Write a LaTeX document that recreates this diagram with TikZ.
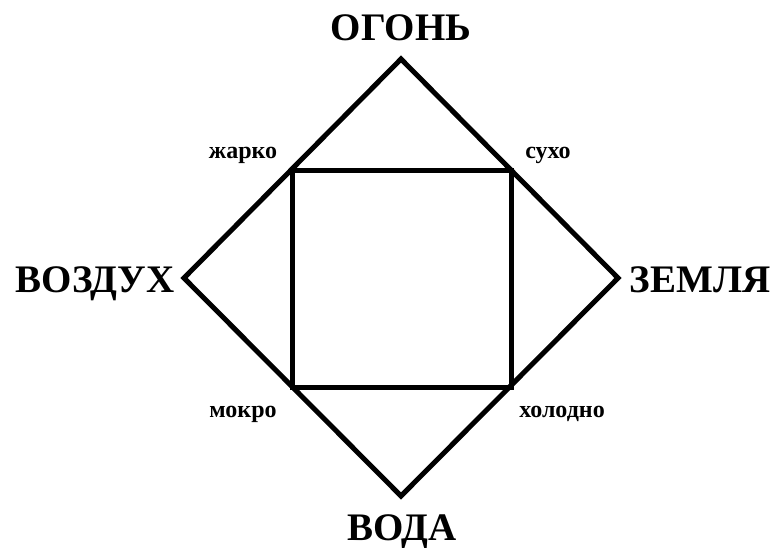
\documentclass[tikz,border=0pt]{standalone}
\usepackage{fontspec}
\setmainfont{Liberation Serif}
\begin{document}
\begin{tikzpicture}[x=1pt,y=-1pt,
  big/.style={font=\fontsize{39}{41}\selectfont\bfseries, inner sep=0pt, anchor=base},
  small/.style={font=\fontsize{24}{26}\selectfont\bfseries, inner sep=0pt, anchor=base},
  outline/.style={line width=5pt, line join=miter}]
\useasboundingbox (0,0) rectangle (773,547);
\coordinate (T) at (401,59);
\coordinate (L) at (184,278);
\coordinate (R) at (618,278);
\coordinate (B) at (401,496);
\coordinate (s1) at (292,170);
\coordinate (s2) at (511,170);
\coordinate (s3) at (511,387);
\coordinate (s4) at (292,387);
\draw[outline] (T) -- (R) -- (B) -- (L) -- cycle;
\draw[outline] (s1) -- (s2) -- (s3) -- (s4) -- cycle;
\node[big] (fire) at (401,40) {ОГОНЬ};
\node[big] (air) at (95,292) {ВОЗДУХ};
\node[big] (earth) at (700,292) {ЗЕМЛЯ};
\node[big] (water) at (402,540) {ВОДА};
\node[small] (hot) at (243,158) {жарко};
\node[small] (dry) at (548,158) {сухо};
\node[small] (wet) at (243,417) {мокро};
\node[small] (cold) at (562,417) {холодно};
\end{tikzpicture}
\end{document}
